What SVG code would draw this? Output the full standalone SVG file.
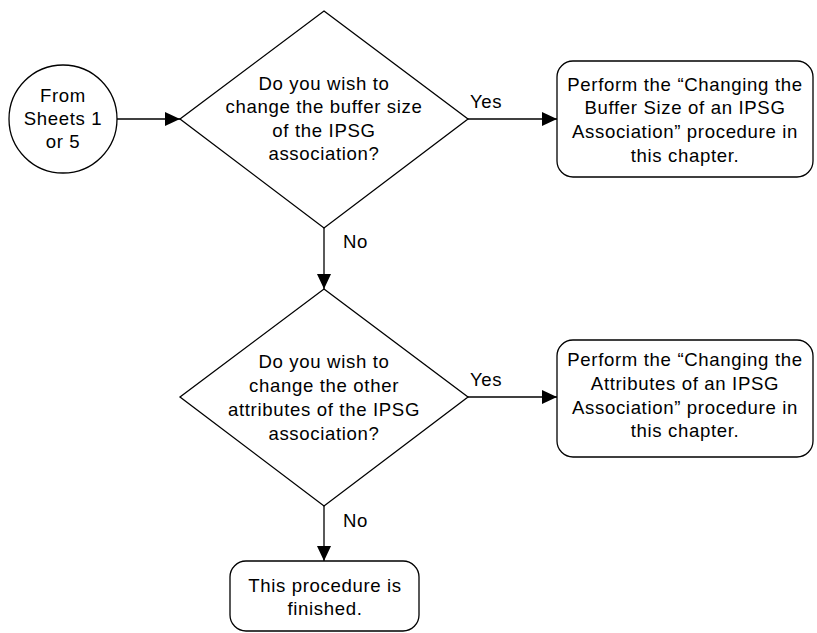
<svg xmlns="http://www.w3.org/2000/svg" width="817" height="633" viewBox="0 0 817 633">
<defs>
<marker id="arr" markerWidth="15" markerHeight="14" refX="15" refY="7" orient="auto" markerUnits="userSpaceOnUse">
<path d="M0,0 L15,7 L0,14 Z" fill="#000"/>
</marker>
</defs>
<style>
.s{fill:#fff;stroke:#000;stroke-width:1.3}
.t{font-family:"Liberation Sans",Arial,sans-serif;font-size:18.6px;letter-spacing:0.65px;fill:#000;text-anchor:middle}
.l{font-family:"Liberation Sans",Arial,sans-serif;font-size:18.6px;letter-spacing:0.65px;fill:#000}
.c{stroke:#000;stroke-width:1.3;fill:none}
</style>
<rect width="817" height="633" fill="#fff"/>
<g id="start">
<circle class="s" cx="63" cy="119" r="54"/>
<text class="t" x="63" y="102">From</text>
<text class="t" x="63" y="125">Sheets 1</text>
<text class="t" x="63" y="148">or 5</text>
</g>
<g id="q1">
<polygon class="s" points="324,11 468,119 324,228 180,119"/>
<text class="t" x="324" y="90">Do you wish to</text>
<text class="t" x="324" y="113">change the buffer size</text>
<text class="t" x="324" y="137">of the IPSG</text>
<text class="t" x="324" y="160">association?</text>
</g>
<g id="p1">
<rect class="s" x="557" y="61" width="256" height="116" rx="16"/>
<text class="t" x="685" y="91">Perform the “Changing the</text>
<text class="t" x="685" y="114">Buffer Size of an IPSG</text>
<text class="t" x="685" y="138">Association” procedure in</text>
<text class="t" x="685" y="162">this chapter.</text>
</g>
<g id="q2">
<polygon class="s" points="324,289 468,397 324,506 180,397"/>
<text class="t" x="324" y="368">Do you wish to</text>
<text class="t" x="324" y="392">change the other</text>
<text class="t" x="324" y="416">attributes of the IPSG</text>
<text class="t" x="324" y="440">association?</text>
</g>
<g id="p2">
<rect class="s" x="557" y="340" width="256" height="117" rx="16"/>
<text class="t" x="685" y="366">Perform the “Changing the</text>
<text class="t" x="685" y="390">Attributes of an IPSG</text>
<text class="t" x="685" y="414">Association” procedure in</text>
<text class="t" x="685" y="437">this chapter.</text>
</g>
<g id="end">
<rect class="s" x="230" y="561" width="189" height="70" rx="16"/>
<text class="t" x="325" y="592">This procedure is</text>
<text class="t" x="325" y="615">finished.</text>
</g>
<g id="connectors">
<line class="c" x1="117" y1="119" x2="180" y2="119" marker-end="url(#arr)"/>
<line class="c" x1="468" y1="119" x2="557" y2="119" marker-end="url(#arr)"/>
<line class="c" x1="324" y1="228" x2="324" y2="289" marker-end="url(#arr)"/>
<line class="c" x1="468" y1="397" x2="557" y2="397" marker-end="url(#arr)"/>
<line class="c" x1="324" y1="506" x2="324" y2="561" marker-end="url(#arr)"/>
<text class="l" x="470" y="108">Yes</text>
<text class="l" x="343" y="248">No</text>
<text class="l" x="470" y="386">Yes</text>
<text class="l" x="343" y="527">No</text>
</g>
</svg>
